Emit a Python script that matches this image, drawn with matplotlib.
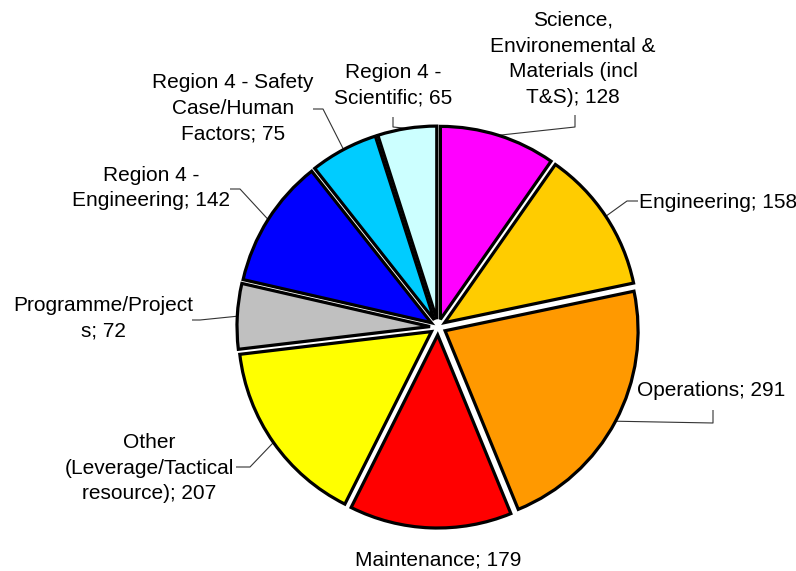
import numpy as np
import matplotlib
matplotlib.use("Agg")
import matplotlib.pyplot as plt

categories = ["Science,\nEnvironemental &\nMaterials (incl\nT&S)", "Engineering", "Operations",
              "Maintenance", "Other\n(Leverage/Tactical\nresource)", "Programme/Project\ns",
              "Region 4 -\nEngineering", "Region 4 - Safety\nCase/Human\nFactors", "Region 4 -\nScientific"]
values = [128, 158, 291, 179, 207, 72, 142, 75, 65]
colors = ["#FF00FF", "#FFCC00", "#FF9900", "#FF0000", "#FFFF00", "#C0C0C0", "#0000FF", "#00CCFF", "#CCFFFF"]

W, H = 796, 571
fig = plt.figure(figsize=(W / 100, H / 100), dpi=100)
ax = fig.add_axes([0, 0, 1, 1])

def P(x, y):
    return (x, H - y)

cx, cy = P(438, 327)
R = 193
gap = 8
wedges, _ = ax.pie(values, colors=colors, startangle=90, counterclock=False,
                   radius=R, center=(cx, cy), explode=[gap] * len(values),
                   wedgeprops=dict(edgecolor="black", linewidth=2.3, joinstyle="miter"),
                   frame=True)
ax.set_xlim(0, W)
ax.set_ylim(0, H)
ax.set_aspect("equal")
ax.axis("off")

font = dict(family="Liberation Sans", fontsize=15, color="black", linespacing=1.45)

# label layout: (text center, elbow points from edge toward text)
layout = [
    ((573, 59), [(575, 127), (575, 115)]),
    ((718, 202), [(627, 201), (638, 201)]),
    ((711, 391), [(713, 423), (713, 410)]),
    ((438, 560), None),
    ((149, 468), [(250, 467), (236, 467)]),
    ((103, 318), [(200, 320), (192, 320)]),
    ((151, 188), [(240, 189), (230, 189)]),
    ((233, 108), [(323, 109), (313, 109)]),
    ((393, 85), [(393, 127), (393, 117)]),
]

for w, cat, v, (tc, elbow) in zip(wedges, categories, values, layout):
    ax.text(*P(*tc), f"{cat}; {v}", ha="center", va="center", **font)
    if elbow is None:
        continue
    th = np.deg2rad((w.theta1 + w.theta2) / 2)
    wx, wy = w.center
    ex_pt = (wx + w.r * np.cos(th), wy + w.r * np.sin(th))
    pts = [ex_pt] + [P(*e) for e in elbow]
    xs, ys = zip(*pts)
    ax.plot(xs, ys, color="#333333", linewidth=0.8, solid_capstyle="butt", zorder=0)

fig.savefig("out.png", dpi=100, facecolor="white")
